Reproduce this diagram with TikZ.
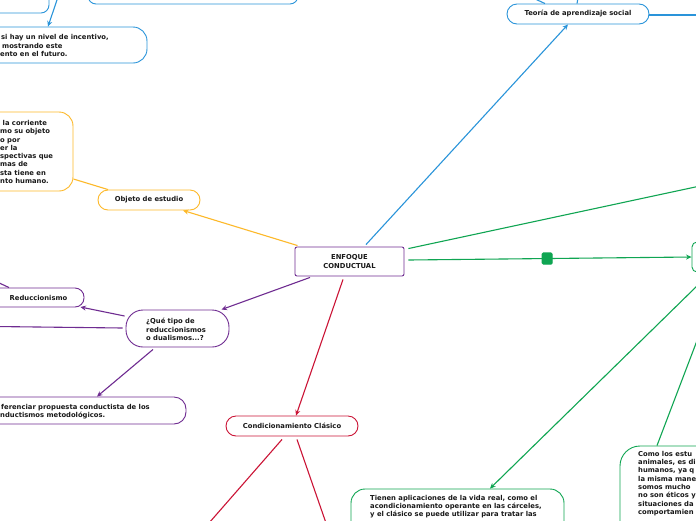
\documentclass[tikz,border=0pt]{standalone}
\usepackage{fontspec}
\setmainfont{DejaVu Sans}
\usetikzlibrary{arrows.meta}
\definecolor{cblue}{HTML}{2A94DA}
\definecolor{cyel}{HTML}{FDB92A}
\definecolor{cpur}{HTML}{6F2C91}
\definecolor{cred}{HTML}{CB1436}
\definecolor{cgrn}{HTML}{0FA552}
\begin{document}
\begin{tikzpicture}[x=1pt,y=-1pt,
  box/.style={draw, line width=0.9pt, rounded corners=#1, inner sep=0pt, fill=white},
  box/.default=10pt,
  txt/.style={font=\fontsize{6.8}{8.3}\selectfont\bfseries, inner sep=0pt, align=left, text=black!90},
  con/.style={line width=1.1pt},
  arr/.style={con, -{Stealth[length=5.5pt,width=5pt]}},
  marker/.style={fill=cgrn, draw=cgrn, rounded corners=1.2pt, minimum width=10pt, minimum height=11pt, inner sep=0pt}]
\useasboundingbox (0,0) rectangle (696,520);
\clip (0,0) rectangle (696,520);
\fill[white] (0,0) rectangle (696,520);

% ---------- nodes ----------
\node[box=8pt, draw=cblue, minimum width=109pt, minimum height=53pt] (tl1) at (-5.5,-13.5) {};
\node[box=8pt, draw=cblue, minimum width=210pt, minimum height=44pt] (tl2) at (193,-18) {};
\node[box=14pt, draw=cblue, minimum width=247pt, minimum height=36pt] (bl3) at (23.5,45) {};
\node[txt, anchor=west] (bl3t) at (0,45.5) {\hspace*{1pt}si hay un nivel de incentivo,\\\hspace*{2pt}mostrando este\\ento en el futuro.};

\node[box=10pt, draw=cblue, minimum width=142pt, minimum height=20pt, txt, align=center] (teo) at (578,14) {Teoría de aprendizaje social};

\node[box=14pt, draw=cyel, minimum width=173pt, minimum height=79pt] (ylw) at (-13.5,151.5) {};
\node[txt, anchor=west] (ylwt) at (0,152) {\hspace*{2.5pt}la corriente\\mo su objeto\\o por\\er la\\spectivas que\\mas de\\sta tiene en\\nto humano.};
\node[box=10pt, draw=cyel, minimum width=102pt, minimum height=20pt, txt, align=center] (obj) at (149,200) {Objeto de estudio};

\node[box=2pt, draw=cpur, minimum width=109pt, minimum height=29pt, txt, align=center] (enf) at (349.5,261.5) {ENFOQUE\\CONDUCTUAL};

\node[box=9pt, draw=cpur, minimum width=124pt, minimum height=19pt] (red) at (22,297.5) {};
\node[txt] (redt) at (38.5,298) {Reduccionismo};
\node[box=17pt, draw=cpur, minimum width=103pt, minimum height=37pt] (que) at (177.5,328.5) {};
\node[txt, anchor=west] (quet) at (146,329.5) {¿Qué tipo de\\reduccionismos\\o dualismos...?};
\node[box=12pt, draw=cpur, minimum width=286pt, minimum height=27pt] (bp) at (43,410.5) {};
\node[txt, anchor=west] (bpt) at (0,411.5) {\hspace*{1pt}ferenciar propuesta conductista de los\\nductismos metodológicos.};

\node[box=10pt, draw=cred, minimum width=132pt, minimum height=20pt, txt, align=center] (cc) at (292,426) {Condicionamiento Clásico};

\node[box=5pt, draw=cgrn, minimum width=48pt, minimum height=30pt] (gr) at (716,257) {};
\node[box=14pt, draw=cgrn, minimum width=213pt, minimum height=71pt] (g1) at (457.5,524.5) {};
\node[txt, anchor=north west] (g1t) at (370,495) {Tienen aplicaciones de la vida real, como el\\acondicionamiento operante en las cárceles,\\y el clásico se puede utilizar para tratar las};
\node[box=20pt, draw=cgrn, minimum width=140pt, minimum height=114pt] (g2) at (690,503) {};
\node[txt, anchor=north west] (g2t) at (638,451) {Como los estu\\animales, es di\\humanos, ya q\\la misma mane\\somos mucho\\no son éticos y\\situaciones da\\comportamien};

% ---------- free ends ----------
\coordinate (ctop) at (58,-3);
\coordinate (cteoR) at (700,15);
\coordinate (cteoA) at (533,-2);
\coordinate (cteoB) at (578,-2);
\coordinate (cgU) at (700,186);
\coordinate (cgD) at (699,284);
\coordinate (cg2) at (698,338);
\coordinate (cqL) at (-5,326.5);
\coordinate (crL) at (-5,281);
\coordinate (ccL) at (209,523);
\coordinate (ccR) at (326,523);

% ---------- connectors ----------
\draw[arr, cblue] (ctop) -- ([xshift=24.5pt]bl3.north);
\draw[con, cblue] ([yshift=-1pt]teo.east) -- (cteoR);
\draw[con, cblue] ([xshift=-33pt]teo.north) -- (cteoA);
\draw[con, cblue] ([xshift=-1pt]teo.north) -- (cteoB);
\draw[arr, cblue] ([xshift=16.5pt,yshift=2pt]enf.north) -- ([xshift=-10pt]teo.south);

\draw[arr, cyel] ([xshift=3pt,yshift=1pt]enf.north west) -- ([xshift=34pt]obj.south);
\draw[con, cyel] ([yshift=-27.5pt]ylw.east) -- ([xshift=-41pt]obj.north);

\draw[con, cgrn] ([xshift=4pt,yshift=-2pt]enf.north east) -- (cgU);
\draw[arr, cgrn] ([xshift=4pt,yshift=1.5pt]enf.east) -- node[marker, pos=0.49] (mk) {} (gr.west);
\draw[arr, cgrn] (cgD) -- ([xshift=32.5pt]g1.north);
\draw[con, cgrn] ([xshift=-33pt]g2.north) -- (cg2);

\draw[arr, cpur] ([xshift=-39.5pt,yshift=-1pt]enf.south) -- ([xshift=44pt]que.north);
\draw[arr, cpur] ([xshift=-1pt,yshift=12.5pt]que.west) -- ([xshift=-4pt,yshift=-9.5pt]red.east);
\draw[con, cpur] ([xshift=-3pt,yshift=0.5pt]que.west) -- (cqL);
\draw[con, cpur] ([xshift=-13pt]red.north) -- (crL);
\draw[arr, cpur] ([xshift=-24.5pt,yshift=-2pt]que.south) -- ([xshift=54pt]bp.north);

\draw[arr, cred] ([xshift=-6.5pt,yshift=-3pt]enf.south) -- ([xshift=4pt]cc.north);
\draw[con, cred] ([xshift=-10pt,yshift=-3pt]cc.south) -- (ccL);
\draw[con, cred] ([xshift=5pt,yshift=-3pt]cc.south) -- (ccR);
\end{tikzpicture}
\end{document}
